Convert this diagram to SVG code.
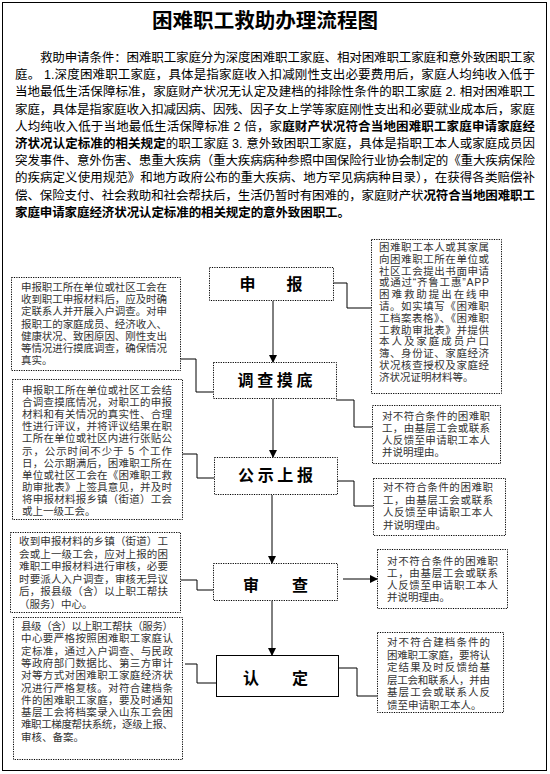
<svg xmlns="http://www.w3.org/2000/svg" width="550" height="774" viewBox="0 0 550 774">
<style>
text{font-family:"Liberation Sans","Noto Sans CJK SC",sans-serif;}
.title{font-size:20px;font-weight:bold;fill:#000;}
.para{font-size:12.5px;fill:#000;}
.b{font-weight:bold;}
.side{font-size:10.5px;fill:#333;}
.lbl{font-size:16px;font-weight:bold;fill:#000;text-anchor:middle;}
.dbox{fill:#fff;stroke:#000;stroke-width:1;stroke-dasharray:1.2 1.2;}
.sbox{fill:#fff;stroke:#000;stroke-width:1;}
.conn{fill:none;stroke:#000;stroke-width:1;}
</style>
<defs>
<marker id="ah" markerWidth="8" markerHeight="8" refX="7" refY="4" orient="auto" markerUnits="userSpaceOnUse">
<path d="M0,0 L8,4 L0,8 Z" fill="#000"/>
</marker>
</defs>
<rect x="2.5" y="2.5" width="544" height="768" fill="#fff" stroke="#000" stroke-width="1"/>
<g id="title">
<text class="title" x="152" y="28" textLength="226" lengthAdjust="spacingAndGlyphs">困难职工救助办理流程图</text>
</g>
<g id="intro">
<text class="para" x="40" y="62" textLength="495" lengthAdjust="spacing">救助申请条件：困难职工家庭分为深度困难职工家庭、相对困难职工家庭和意外致困职工家</text>
<text class="para" x="15" y="79.2" textLength="520" lengthAdjust="spacing">庭。 1.深度困难职工家庭，具体是指家庭收入扣减刚性支出必要费用后，家庭人均纯收入低于</text>
<text class="para" x="15" y="96.4" textLength="520" lengthAdjust="spacing">当地最低生活保障标准，家庭财产状况无认定及建档的排除性条件的职工家庭 2. 相对困难职工</text>
<text class="para" x="15" y="113.6" textLength="520" lengthAdjust="spacing">家庭，具体是指家庭收入扣减因病、因残、因子女上学等家庭刚性支出和必要就业成本后，家庭</text>
<text class="para" x="15" y="130.8" textLength="520" lengthAdjust="spacing">人均纯收入低于当地最低生活保障标准 2 倍，家<tspan class="b">庭财产状况符合当地困难职工家庭申请家庭经</tspan></text>
<text class="para" x="15" y="148" textLength="520" lengthAdjust="spacing"><tspan class="b">济状况认定标准的相关规定</tspan>的职工家庭 3. 意外致困职工家庭，具体是指职工本人或家庭成员因</text>
<text class="para" x="15" y="165.2" textLength="520" lengthAdjust="spacing">突发事件、意外伤害、患重大疾病（重大疾病病种参照中国保险行业协会制定的《重大疾病保险</text>
<text class="para" x="15" y="182.4" textLength="520" lengthAdjust="spacing">的疾病定义使用规范》和地方政府公布的重大疾病、地方罕见病病种目录），在获得各类赔偿补</text>
<text class="para" x="15" y="199.6" textLength="520" lengthAdjust="spacing">偿、保险支付、社会救助和社会帮扶后，生活仍暂时有困难的，家庭财产状<tspan class="b">况符合当地困难职工</tspan></text>
<text class="para b" x="15" y="216.8" textLength="335" lengthAdjust="spacing">家庭申请家庭经济状况认定标准的相关规定的意外致困职工。</text>
</g>
<g id="connectors">
<line class="conn" x1="273" y1="301" x2="273" y2="362" marker-end="url(#ah)"/>
<line class="conn" x1="273" y1="399" x2="273" y2="457" marker-end="url(#ah)"/>
<line class="conn" x1="272" y1="495" x2="272" y2="563" marker-end="url(#ah)"/>
<line class="conn" x1="272" y1="601" x2="272" y2="655" marker-end="url(#ah)"/>
<polyline class="conn" points="333,283 347,283 347,308 371,308"/>
<polyline class="conn" points="180,359 196,359 196,392 213,392"/>
<polyline class="conn" points="336,400 354,400 354,427 372,427"/>
<polyline class="conn" points="182,454 197,454 197,478 214,478"/>
<polyline class="conn" points="337,481 354,481 354,506 373,506"/>
<polyline class="conn" points="181,580 197,580 197,590 213,590"/>
<line class="conn" x1="343" y1="579" x2="377" y2="579" marker-end="url(#ah)"/>
<polyline class="conn" points="185,664 197,664 197,683 216,683"/>
<polyline class="conn" points="338,668 357,668 357,696 377,696"/>
</g>
<g id="n-shenbao">
<rect class="dbox" x="209.5" y="267.5" width="124" height="33"/>
<text class="lbl" x="271" y="290" textLength="63" lengthAdjust="spacing">申报</text>
</g>
<g id="n-diaocha">
<rect class="dbox" x="213.5" y="362.5" width="123" height="36"/>
<text class="lbl" x="275" y="386" textLength="75" lengthAdjust="spacing">调查摸底</text>
</g>
<g id="n-gongshi">
<rect class="dbox" x="214.5" y="457.5" width="123" height="37"/>
<text class="lbl" x="275.5" y="481" textLength="75" lengthAdjust="spacing">公示上报</text>
</g>
<g id="n-shencha">
<rect class="dbox" x="213.5" y="563.5" width="124" height="37"/>
<text class="lbl" x="275.5" y="591" textLength="65" lengthAdjust="spacing">审查</text>
</g>
<g id="n-rending">
<rect class="sbox" x="216.5" y="655.5" width="122" height="41"/>
<text class="lbl" x="275.5" y="684" textLength="65" lengthAdjust="spacing">认定</text>
</g>
<g id="n-left1">
<rect class="dbox" x="11.5" y="277.5" width="169" height="93"/>
<text class="side" x="21" y="291" textLength="146" lengthAdjust="spacing">申报职工所在单位或社区工会在</text>
<text class="side" x="21" y="303.2" textLength="146" lengthAdjust="spacing">收到职工申报材料后，应及时确</text>
<text class="side" x="21" y="315.4" textLength="146" lengthAdjust="spacing">定联系人并开展入户调查。对申</text>
<text class="side" x="21" y="327.6" textLength="146" lengthAdjust="spacing">报职工的家庭成员、经济收入、</text>
<text class="side" x="21" y="339.8" textLength="146" lengthAdjust="spacing">健康状况、致困原因、刚性支出</text>
<text class="side" x="21" y="352" textLength="146" lengthAdjust="spacing">等情况进行摸底调查，确保情况</text>
<text class="side" x="21" y="364.2">真实。</text>
</g>
<g id="n-left2">
<rect class="dbox" x="12.5" y="379.5" width="170" height="140"/>
<text class="side" x="22" y="394" textLength="150" lengthAdjust="spacing">申报职工所在单位或社区工会结</text>
<text class="side" x="22" y="406.1" textLength="150" lengthAdjust="spacing">合调查摸底情况，对职工的申报</text>
<text class="side" x="22" y="418.2" textLength="150" lengthAdjust="spacing">材料和有关情况的真实性、合理</text>
<text class="side" x="22" y="430.3" textLength="150" lengthAdjust="spacing">性进行评议，并将评议结果在职</text>
<text class="side" x="22" y="442.4" textLength="150" lengthAdjust="spacing">工所在单位或社区内进行张贴公</text>
<text class="side" x="22" y="454.5" textLength="150" lengthAdjust="spacing">示，公示时间不少于 5 个工作</text>
<text class="side" x="22" y="466.6" textLength="150" lengthAdjust="spacing">日，公示期满后，困难职工所在</text>
<text class="side" x="22" y="478.7" textLength="150" lengthAdjust="spacing">单位或社区工会在《困难职工救</text>
<text class="side" x="22" y="490.8" textLength="150" lengthAdjust="spacing">助审批表》上签具意见，并及时</text>
<text class="side" x="22" y="502.9" textLength="150" lengthAdjust="spacing">将申报材料报乡镇（街道）工会</text>
<text class="side" x="22" y="515">或上一级工会。</text>
</g>
<g id="n-left3">
<rect class="dbox" x="10.5" y="532.5" width="170" height="80"/>
<text class="side" x="19" y="545" textLength="149" lengthAdjust="spacing">收到申报材料的乡镇（街道）工</text>
<text class="side" x="19" y="557.6" textLength="149" lengthAdjust="spacing">会或上一级工会，应对上报的困</text>
<text class="side" x="19" y="570.2" textLength="149" lengthAdjust="spacing">难职工申报材料进行审核，必要</text>
<text class="side" x="19" y="582.8" textLength="149" lengthAdjust="spacing">时要派人入户调查，审核无异议</text>
<text class="side" x="19" y="595.4" textLength="149" lengthAdjust="spacing">后，报县级（含）以上职工帮扶</text>
<text class="side" x="19" y="608">（服务）中心。</text>
</g>
<g id="n-left4">
<rect class="dbox" x="13.5" y="617.5" width="169" height="142"/>
<text class="side" x="21" y="630" textLength="152" lengthAdjust="spacing">县级（含）以上职工帮扶（服务）</text>
<text class="side" x="21" y="642.3" textLength="152" lengthAdjust="spacing">中心要严格按照困难职工家庭认</text>
<text class="side" x="21" y="654.6" textLength="152" lengthAdjust="spacing">定标准，通过入户调查、与民政</text>
<text class="side" x="21" y="666.9" textLength="152" lengthAdjust="spacing">等政府部门数据比、第三方审计</text>
<text class="side" x="21" y="679.2" textLength="152" lengthAdjust="spacing">对等方式对困难职工家庭经济状</text>
<text class="side" x="21" y="691.5" textLength="152" lengthAdjust="spacing">况进行严格复核。对符合建档条</text>
<text class="side" x="21" y="703.8" textLength="152" lengthAdjust="spacing">件的困难职工家庭，要及时通知</text>
<text class="side" x="21" y="716.1" textLength="152" lengthAdjust="spacing">基层工会将档案录入山东工会困</text>
<text class="side" x="21" y="728.4" textLength="152" lengthAdjust="spacing">难职工梯度帮扶系统，逐级上报、</text>
<text class="side" x="21" y="740.7">审核、备案。</text>
</g>
<g id="n-right1">
<rect class="dbox" x="371.5" y="239.5" width="130" height="154"/>
<text class="side" x="379" y="251" textLength="110" lengthAdjust="spacing">困难职工本人或其家属</text>
<text class="side" x="379" y="262.8" textLength="110" lengthAdjust="spacing">向困难职工所在单位或</text>
<text class="side" x="379" y="274.6" textLength="110" lengthAdjust="spacing">社区工会提出书面申请</text>
<text class="side" x="379" y="286.4" textLength="110" lengthAdjust="spacing">或通过“齐鲁工惠”APP</text>
<text class="side" x="379" y="298.2" textLength="110" lengthAdjust="spacing">困难救助提出在线申</text>
<text class="side" x="379" y="310" textLength="110" lengthAdjust="spacing">请。如实填写《困难职</text>
<text class="side" x="379" y="321.8" textLength="110" lengthAdjust="spacing">工档案表格》、《困难职</text>
<text class="side" x="379" y="333.6" textLength="110" lengthAdjust="spacing">工救助审批表》并提供</text>
<text class="side" x="379" y="345.4" textLength="110" lengthAdjust="spacing">本人及家庭成员户口</text>
<text class="side" x="379" y="357.2" textLength="110" lengthAdjust="spacing">簿、身份证、家庭经济</text>
<text class="side" x="379" y="369" textLength="110" lengthAdjust="spacing">状况核查授权及家庭经</text>
<text class="side" x="379" y="380.8">济状况证明材料等。</text>
</g>
<g id="n-right2">
<rect class="dbox" x="372.5" y="405.5" width="128" height="58"/>
<text class="side" x="382" y="420" textLength="108" lengthAdjust="spacing">对不符合条件的困难职</text>
<text class="side" x="382" y="432" textLength="108" lengthAdjust="spacing">工，由基层工会或联系</text>
<text class="side" x="382" y="444" textLength="108" lengthAdjust="spacing">人反馈至申请职工本人</text>
<text class="side" x="382" y="456">并说明理由。</text>
</g>
<g id="n-right3">
<rect class="dbox" x="373.5" y="478.5" width="132" height="57"/>
<text class="side" x="383" y="491" textLength="110" lengthAdjust="spacing">对不符合条件的困难职</text>
<text class="side" x="383" y="503.5" textLength="110" lengthAdjust="spacing">工，由基层工会或联系</text>
<text class="side" x="383" y="516" textLength="110" lengthAdjust="spacing">人反馈至申请职工本人</text>
<text class="side" x="383" y="528.5">并说明理由。</text>
</g>
<g id="n-right4">
<rect class="dbox" x="377.5" y="549.5" width="130" height="59"/>
<text class="side" x="387" y="565" textLength="111" lengthAdjust="spacing">对不符合条件的困难职</text>
<text class="side" x="387" y="577" textLength="111" lengthAdjust="spacing">工，由基层工会或联系</text>
<text class="side" x="387" y="589" textLength="111" lengthAdjust="spacing">人反馈至申请职工本人</text>
<text class="side" x="387" y="601">并说明理由。</text>
</g>
<g id="n-right5">
<rect class="dbox" x="377.5" y="632.5" width="126" height="80"/>
<text class="side" x="387" y="646" textLength="103" lengthAdjust="spacing">对不符合建档条件的</text>
<text class="side" x="387" y="658.6" textLength="103" lengthAdjust="spacing">困难职工家庭，要将认</text>
<text class="side" x="387" y="671.2" textLength="103" lengthAdjust="spacing">定结果及时反馈给基</text>
<text class="side" x="387" y="683.8" textLength="103" lengthAdjust="spacing">层工会和联系人，并由</text>
<text class="side" x="387" y="696.4" textLength="103" lengthAdjust="spacing">基层工会或联系人反</text>
<text class="side" x="387" y="709">馈至申请职工本人。</text>
</g>
</svg>
